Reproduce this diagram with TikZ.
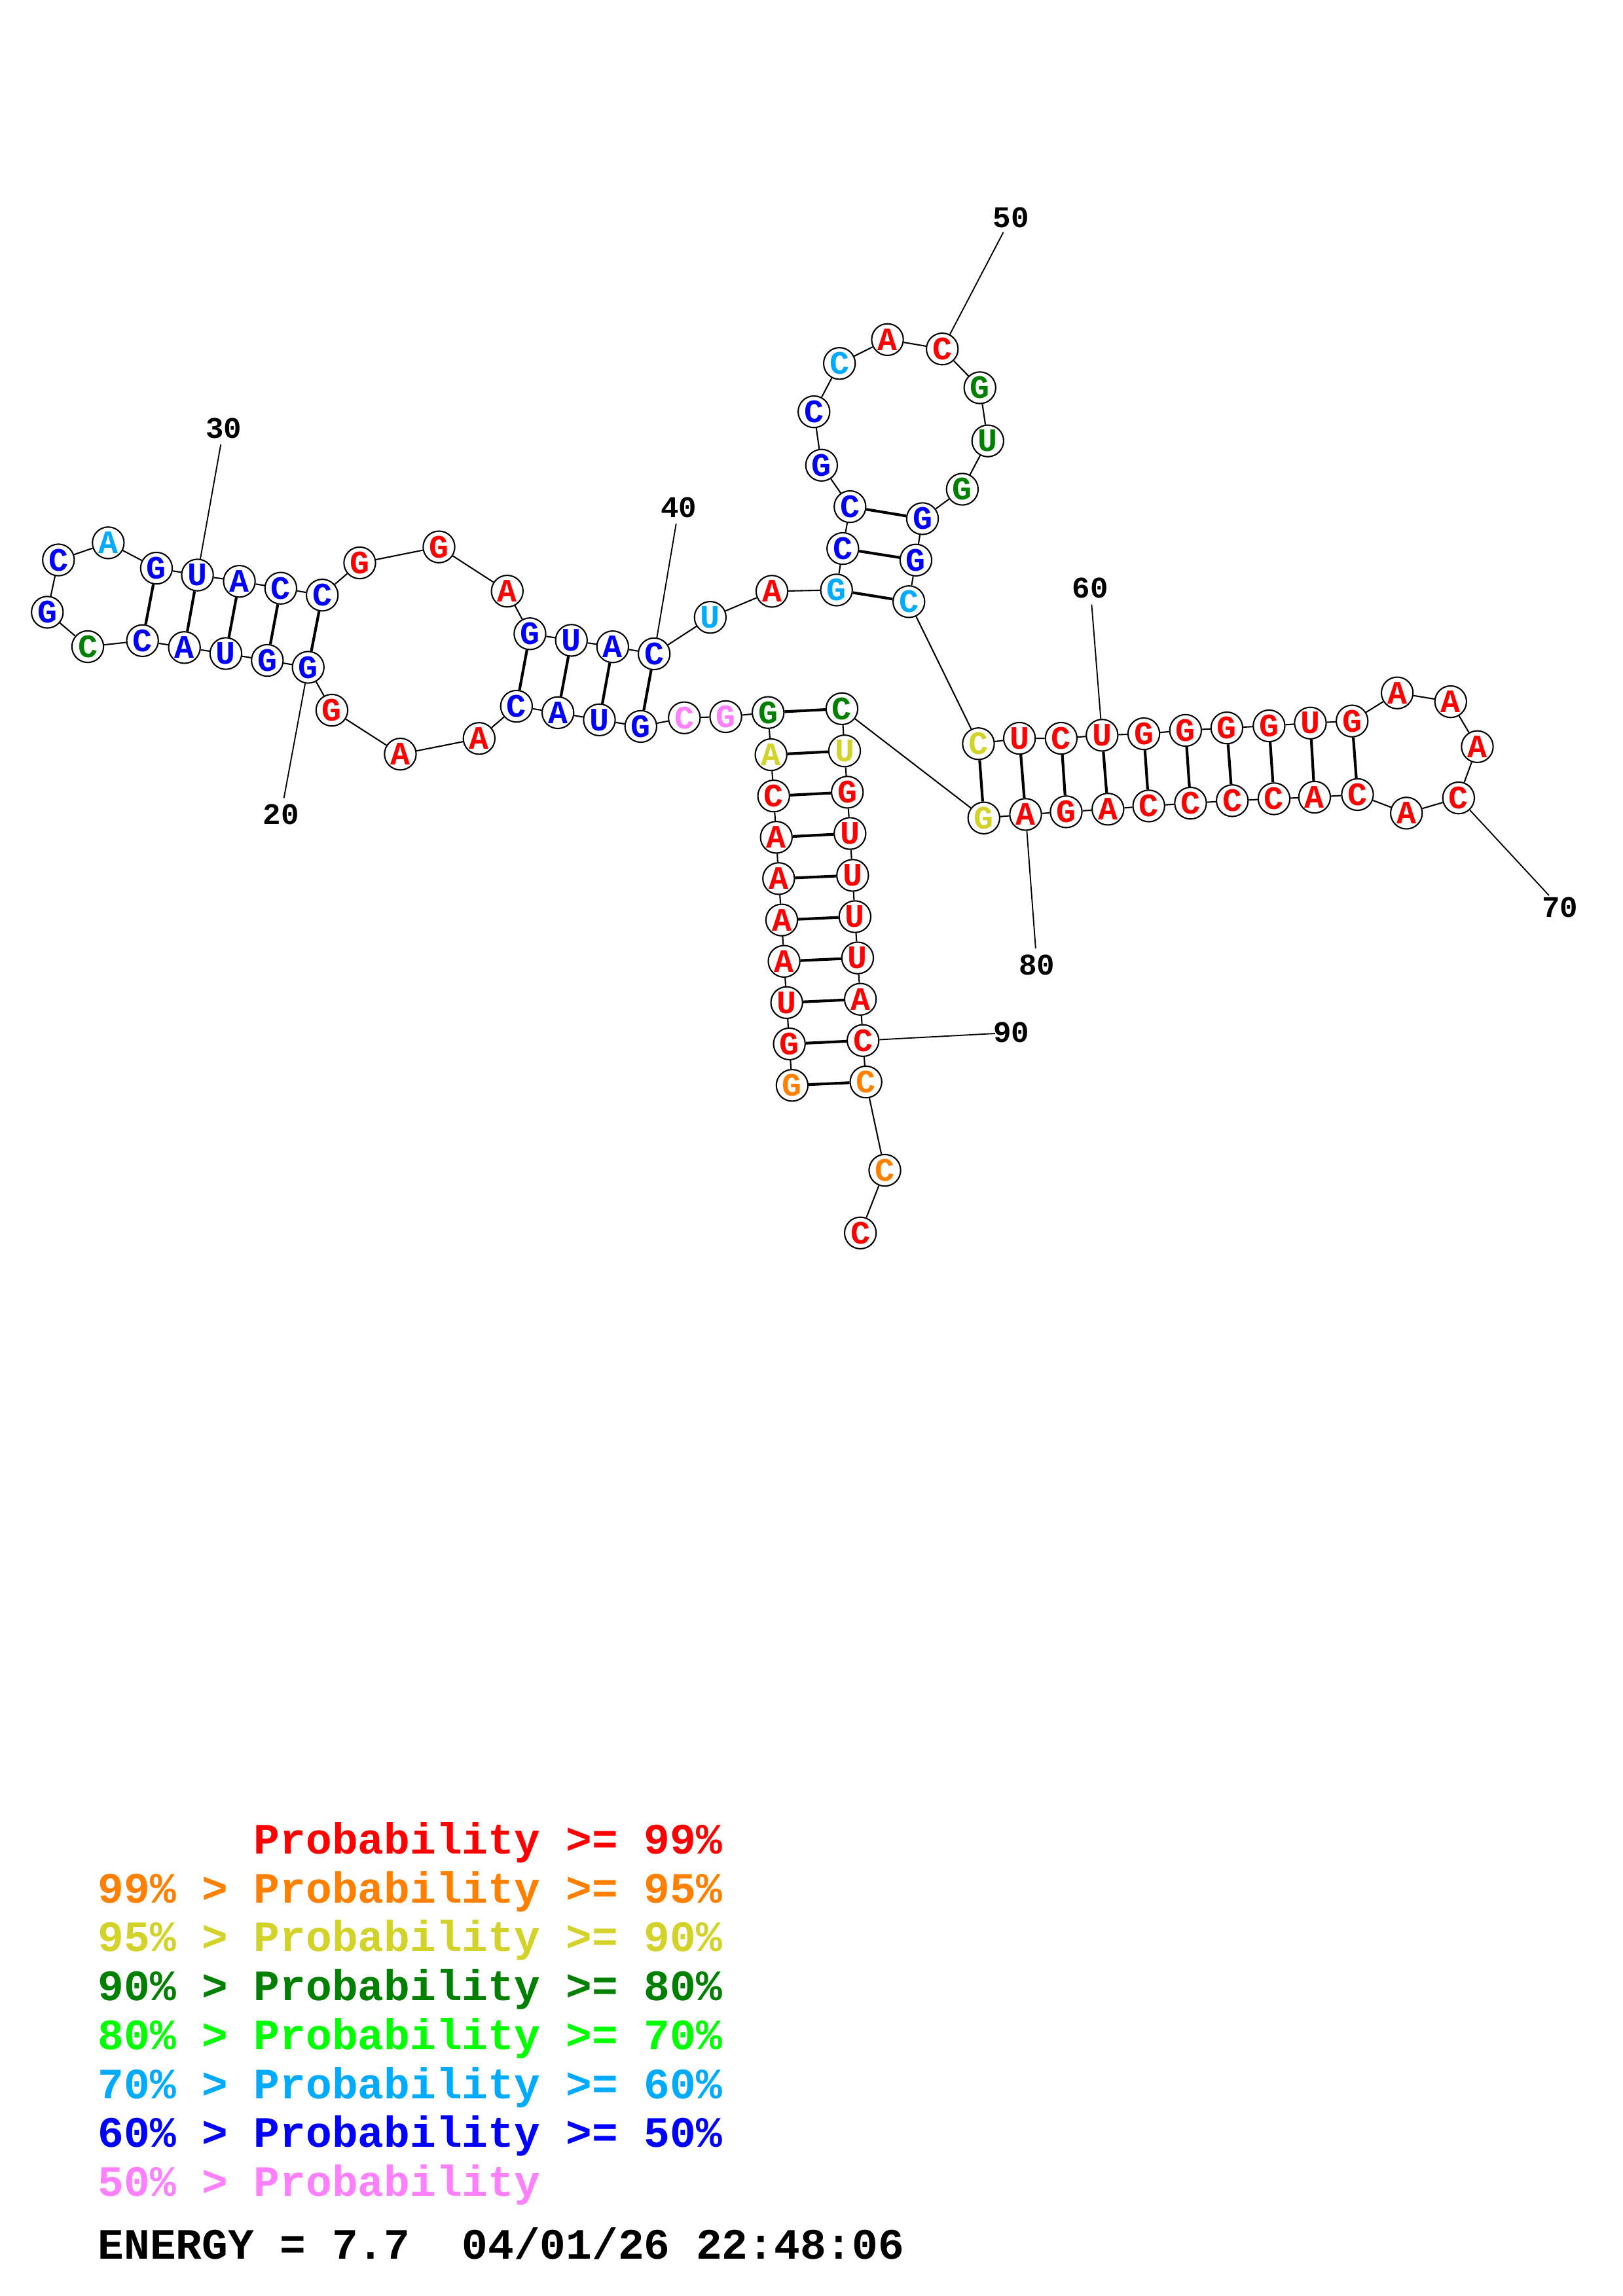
\documentclass[tikz,border=0pt]{standalone}
\usepackage{fontspec}
\setmonofont{Liberation Mono}
\usepackage{tikz}

\definecolor{prRed}{RGB}{255,0,0}
\definecolor{prOrange}{RGB}{255,128,0}
\definecolor{prYellow}{RGB}{210,210,40}
\definecolor{prDkGreen}{RGB}{0,128,0}
\definecolor{prGreen}{RGB}{0,255,0}
\definecolor{prLtBlue}{RGB}{0,170,255}
\definecolor{prBlue}{RGB}{0,0,255}
\definecolor{prPink}{RGB}{255,128,255}

\begin{document}
\begin{tikzpicture}[x=0.5373pt,y=-0.5373pt,
    nt/.style={circle,draw,line width=0.5pt,fill=white,inner sep=0pt,minimum size=11.6pt,
               font=\fontsize{12}{12}\selectfont\ttfamily\bfseries},
    ntR/.style={nt,text=prRed},
    ntO/.style={nt,text=prOrange},
    ntY/.style={nt,text=prYellow},
    ntDG/.style={nt,text=prDkGreen},
    ntLB/.style={nt,text=prLtBlue},
    ntB/.style={nt,text=prBlue},
    ntP/.style={nt,text=prPink},
    backbone/.style={line width=0.5pt},
    pair/.style={line width=1pt},
    num/.style={font=\fontsize{11}{11}\selectfont\ttfamily\bfseries,inner sep=0pt},
    numline/.style={line width=0.45pt,shorten >=6pt},
    legend/.style={anchor=base west,inner sep=0pt,font=\fontsize{15.9}{18}\selectfont\ttfamily\bfseries}]

  \useasboundingbox (0,0) rectangle (1108,1568);

  % 5' stem
  \node[ntO]  (n1)  at (540.8,741.2) {G};
  \node[ntR]  (n2)  at (538.9,712.9) {G};
  \node[ntR]  (n3)  at (537.1,684.7) {U};
  \node[ntR]  (n4)  at (535.3,656.5) {A};
  \node[ntR]  (n5)  at (533.7,628.3) {A};
  \node[ntR]  (n6)  at (531.6,600.0) {A};
  \node[ntR]  (n7)  at (530.0,571.8) {A};
  \node[ntR]  (n8)  at (528.2,543.6) {C};
  \node[ntY]  (n9)  at (526.4,515.4) {A};
  \node[ntDG] (n10) at (524.4,486.6) {G};
  \node[ntP]  (n11) at (495.5,489.4) {G};
  \node[ntP]  (n12) at (467.2,490.2) {C};
  \node[ntB]  (n13) at (437.5,496.1) {G};
  \node[ntB]  (n14) at (409.2,491.6) {U};
  \node[ntB]  (n15) at (380.9,486.7) {A};
  \node[ntB]  (n16) at (352.6,482.3) {C};
  \node[ntR]  (n17) at (327.1,504.3) {A};
  \node[ntR]  (n18) at (273.3,515.0) {A};
  \node[ntR]  (n19) at (226.6,485.0) {G};
  % left hairpin
  \node[ntB]  (n20) at (210.4,455.7) {G};
  \node[ntB]  (n21) at (182.5,451.0) {G};
  \node[ntB]  (n22) at (154.2,446.3) {U};
  \node[ntB]  (n23) at (125.9,442.2) {A};
  \node[ntB]  (n24) at (97.3,437.5)  {C};
  \node[ntDG] (n25) at (59.9,441.6)  {C};
  \node[ntB]  (n26) at (32.3,418.1)  {G};
  \node[ntB]  (n27) at (39.9,382.4)  {C};
  \node[ntLB] (n28) at (73.9,370.7)  {A};
  \node[ntB]  (n29) at (106.8,388.0) {G};
  \node[ntB]  (n30) at (134.8,392.7) {U};
  \node[ntB]  (n31) at (163.4,397.0) {A};
  \node[ntB]  (n32) at (191.7,401.7) {C};
  \node[ntB]  (n33) at (220.0,406.4) {C};
  \node[ntR]  (n34) at (245.6,384.4) {G};
  \node[ntR]  (n35) at (299.7,373.5) {G};
  \node[ntR]  (n36) at (346.3,403.7) {A};
  \node[ntB]  (n37) at (361.8,432.8) {G};
  \node[ntB]  (n38) at (390.1,437.3) {U};
  \node[ntB]  (n39) at (418.3,441.7) {A};
  \node[ntB]  (n40) at (446.6,446.5) {C};
  \node[ntLB] (n41) at (484.9,421.6) {U};
  \node[ntR]  (n42) at (527.0,403.8) {A};
  % top hairpin
  \node[ntLB] (n43) at (571.1,402.9) {G};
  \node[ntB]  (n44) at (575.4,374.6) {C};
  \node[ntB]  (n45) at (580.3,346.0) {C};
  \node[ntB]  (n46) at (560.9,317.7) {G};
  \node[ntB]  (n47) at (555.7,281.2) {C};
  \node[ntLB] (n48) at (573.1,248.2) {C};
  \node[ntR]  (n49) at (605.9,231.9) {A};
  \node[ntR]  (n50) at (643.3,238.3) {C};
  \node[ntDG] (n51) at (669.0,264.8) {G};
  \node[ntDG] (n52) at (674.4,301.1) {U};
  \node[ntDG] (n53) at (657.0,334.1) {G};
  \node[ntB]  (n54) at (629.8,354.2) {G};
  \node[ntB]  (n55) at (625.3,382.5) {G};
  \node[ntLB] (n56) at (620.5,410.9) {C};
  % right hairpin
  \node[ntY]  (n57) at (668.0,507.9) {C};
  \node[ntR]  (n58) at (696.0,504.2) {U};
  \node[ntR]  (n59) at (724.5,504.2) {C};
  \node[ntR]  (n60) at (752.4,502.1) {U};
  \node[ntR]  (n61) at (780.9,501.1) {G};
  \node[ntR]  (n62) at (809.4,498.8) {G};
  \node[ntR]  (n63) at (837.6,497.1) {G};
  \node[ntR]  (n64) at (866.4,495.7) {G};
  \node[ntR]  (n65) at (894.6,493.8) {U};
  \node[ntR]  (n66) at (923.1,492.4) {G};
  \node[ntR]  (n67) at (953.9,473.2) {A};
  \node[ntR]  (n68) at (990.4,479.2) {A};
  \node[ntR]  (n69) at (1008.6,509.9) {A};
  \node[ntR]  (n70) at (995.8,544.9) {C};
  \node[ntR]  (n71) at (960.2,555.3) {A};
  \node[ntR]  (n72) at (926.8,542.6) {C};
  \node[ntR]  (n73) at (897.5,544.4) {A};
  \node[ntR]  (n74) at (869.8,545.5) {C};
  \node[ntR]  (n75) at (841.3,546.8) {C};
  \node[ntR]  (n76) at (812.8,548.5) {C};
  \node[ntR]  (n77) at (784.3,550.4) {C};
  \node[ntR]  (n78) at (756.4,552.6) {A};
  \node[ntR]  (n79) at (727.9,554.4) {G};
  \node[ntR]  (n80) at (700.2,556.2) {A};
  \node[ntY]  (n81) at (671.7,558.6) {G};
  % 3' stem and tail
  \node[ntDG] (n82) at (574.8,484.0) {C};
  \node[ntY]  (n83) at (576.6,512.8) {U};
  \node[ntR]  (n84) at (578.5,541.0) {G};
  \node[ntR]  (n85) at (580.3,569.2) {U};
  \node[ntR]  (n86) at (582.1,597.8) {U};
  \node[ntR]  (n87) at (583.7,626.0) {U};
  \node[ntR]  (n88) at (585.5,654.2) {U};
  \node[ntR]  (n89) at (587.4,682.4) {A};
  \node[ntR]  (n90) at (589.2,710.6) {C};
  \node[ntO]  (n91) at (591.2,738.9) {C};
  \node[ntO]  (n92) at (604.1,799.2) {C};
  \node[ntR]  (n93) at (587.4,842.0) {C};

  % backbone
  \draw[backbone] (n1) -- (n2) -- (n3) -- (n4) -- (n5) -- (n6) -- (n7) -- (n8) -- (n9) -- (n10)
    -- (n11) -- (n12) -- (n13) -- (n14) -- (n15) -- (n16) -- (n17) -- (n18) -- (n19) -- (n20)
    -- (n21) -- (n22) -- (n23) -- (n24) -- (n25) -- (n26) -- (n27) -- (n28) -- (n29) -- (n30)
    -- (n31) -- (n32) -- (n33) -- (n34) -- (n35) -- (n36) -- (n37) -- (n38) -- (n39) -- (n40)
    -- (n41) -- (n42) -- (n43) -- (n44) -- (n45) -- (n46) -- (n47) -- (n48) -- (n49) -- (n50)
    -- (n51) -- (n52) -- (n53) -- (n54) -- (n55) -- (n56) -- (n57) -- (n58) -- (n59) -- (n60)
    -- (n61) -- (n62) -- (n63) -- (n64) -- (n65) -- (n66) -- (n67) -- (n68) -- (n69) -- (n70)
    -- (n71) -- (n72) -- (n73) -- (n74) -- (n75) -- (n76) -- (n77) -- (n78) -- (n79) -- (n80)
    -- (n81) -- (n82) -- (n83) -- (n84) -- (n85) -- (n86) -- (n87) -- (n88) -- (n89) -- (n90)
    -- (n91) -- (n92) -- (n93);

  % base pairs
  \path (n1)  edge[pair] (n91)  (n2)  edge[pair] (n90)  (n3)  edge[pair] (n89)
        (n4)  edge[pair] (n88)  (n5)  edge[pair] (n87)  (n6)  edge[pair] (n86)
        (n7)  edge[pair] (n85)  (n8)  edge[pair] (n84)  (n9)  edge[pair] (n83)
        (n10) edge[pair] (n82)
        (n13) edge[pair] (n40)  (n14) edge[pair] (n39)  (n15) edge[pair] (n38)
        (n16) edge[pair] (n37)
        (n20) edge[pair] (n33)  (n21) edge[pair] (n32)  (n22) edge[pair] (n31)
        (n23) edge[pair] (n30)  (n24) edge[pair] (n29)
        (n43) edge[pair] (n56)  (n44) edge[pair] (n55)  (n45) edge[pair] (n54)
        (n57) edge[pair] (n81)  (n58) edge[pair] (n80)  (n59) edge[pair] (n79)
        (n60) edge[pair] (n78)  (n61) edge[pair] (n77)  (n62) edge[pair] (n76)
        (n63) edge[pair] (n75)  (n64) edge[pair] (n74)  (n65) edge[pair] (n73)
        (n66) edge[pair] (n72);

  % position numbers
  \node[num] (l20) at (191.8,556.0) {20};
  \node[num] (l30) at (152.7,292.6) {30};
  \node[num] (l40) at (463.5,346.5) {40};
  \node[num] (l50) at (690.2,148.7) {50};
  \node[num] (l60) at (744.4,401.7) {60};
  \node[num] (l70) at (1065.1,619.7) {70};
  \node[num] (l80) at (707.9,658.9) {80};
  \node[num] (l90) at (690.5,705.2) {90};
  \draw[numline] (n20) -- (l20.center);
  \draw[numline] (n30) -- (l30.center);
  \draw[numline] (n40) -- (l40.center);
  \draw[numline] (n50) -- (l50.center);
  \draw[numline] (n60) -- (l60.center);
  \draw[numline] (n70) -- (l70.center);
  \draw[numline] (n80) -- (l80.center);
  \draw[numline] (n90) -- (l90.center);

  % legend
  \node[legend,text=prRed]     (k1) at (66.5,1266.0) {\hphantom{99\% > }Probability >= 99\%};
  \node[legend,text=prOrange]  (k2) at (66.5,1299.4) {99\% > Probability >= 95\%};
  \node[legend,text=prYellow]  (k3) at (66.5,1332.8) {95\% > Probability >= 90\%};
  \node[legend,text=prDkGreen] (k4) at (66.5,1366.2) {90\% > Probability >= 80\%};
  \node[legend,text=prGreen]   (k5) at (66.5,1399.6) {80\% > Probability >= 70\%};
  \node[legend,text=prLtBlue]  (k6) at (66.5,1433.0) {70\% > Probability >= 60\%};
  \node[legend,text=prBlue]    (k7) at (66.5,1466.4) {60\% > Probability >= 50\%};
  \node[legend,text=prPink]    (k8) at (66.5,1499.8) {50\% > Probability};
  \node[legend]                (en) at (66.5,1542.8) {ENERGY = 7.7\ \ 04/01/26 22:48:06};
\end{tikzpicture}
\end{document}
